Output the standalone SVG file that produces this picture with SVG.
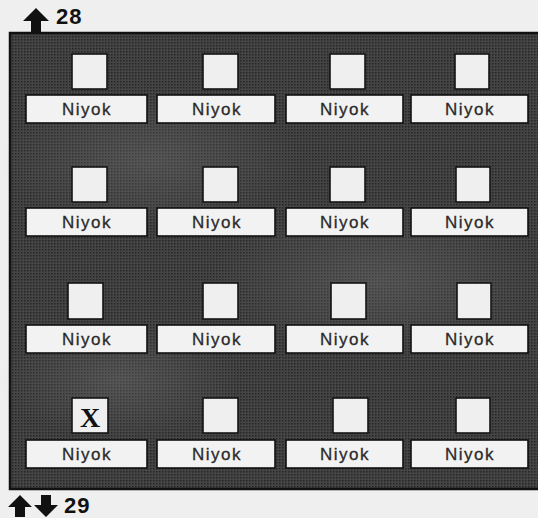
<svg xmlns="http://www.w3.org/2000/svg" width="538" height="518" viewBox="0 0 538 518">
<defs>
<style>
.lbl{fill:#f2f2f2;stroke:#111;stroke-width:1.6}
.cb{fill:#efefef;stroke:#151515;stroke-width:1.6}
.t{font-family:"Liberation Sans",Arial,sans-serif;font-size:17px;letter-spacing:1.5px;fill:#2a2a2a;stroke:#2a2a2a;stroke-width:0.3;text-anchor:middle}
.n{font-family:"Liberation Sans",Arial,sans-serif;font-size:22px;font-weight:bold;letter-spacing:1px;fill:#111}
.arr{fill:#111}
</style>
<pattern id="dots" width="3" height="3" patternUnits="userSpaceOnUse">
<rect width="3" height="3" fill="#454545"/>
<rect width="1.5" height="1.5" fill="#252525"/>
</pattern>
<radialGradient id="g1" cx="0.5" cy="0.5" r="0.5">
<stop offset="0" stop-color="#777" stop-opacity="0.35"/>
<stop offset="1" stop-color="#777" stop-opacity="0"/>
</radialGradient>
</defs>
<rect width="538" height="518" fill="#efefef"/>
<g id="panel">
<rect x="10" y="33" width="530" height="456" fill="url(#dots)" stroke="#111" stroke-width="2.5"/>
<ellipse cx="150" cy="160" rx="150" ry="70" fill="url(#g1)"/>
<ellipse cx="380" cy="280" rx="170" ry="80" fill="url(#g1)"/>
<ellipse cx="120" cy="380" rx="120" ry="60" fill="url(#g1)"/>
</g>
<g id="top-label">
<path class="arr" d="M36,8 L49,21 L41,21 L41,32 L31,32 L31,21 L23,21 Z"/>
<text class="n" x="56" y="24">28</text>
</g>
<g id="bottom-label">
<path class="arr" d="M20,495 L32,507 L25,507 L25,517 L15,517 L15,507 L8,507 Z"/>
<path class="arr" d="M46,517 L58,505 L51,505 L51,495 L41,495 L41,505 L34,505 Z"/>
<text class="n" x="64" y="513">29</text>
</g>
<g id="row1">
<g id="r1c1"><rect class="cb" x="72" y="54" width="35" height="35"/><rect class="lbl" x="26" y="95" width="121" height="28"/><text class="t" x="87" y="115">Niyok</text></g>
<g id="r1c2"><rect class="cb" x="203" y="54" width="35" height="35"/><rect class="lbl" x="157" y="95" width="118" height="28"/><text class="t" x="217" y="115">Niyok</text></g>
<g id="r1c3"><rect class="cb" x="330" y="54" width="35" height="35"/><rect class="lbl" x="286" y="95" width="117" height="28"/><text class="t" x="345" y="115">Niyok</text></g>
<g id="r1c4"><rect class="cb" x="455" y="54" width="34" height="35"/><rect class="lbl" x="411" y="95" width="117" height="28"/><text class="t" x="470" y="115">Niyok</text></g>
</g>
<g id="row2">
<g id="r2c1"><rect class="cb" x="72" y="167" width="35" height="35"/><rect class="lbl" x="26" y="208" width="121" height="28"/><text class="t" x="87" y="228">Niyok</text></g>
<g id="r2c2"><rect class="cb" x="203" y="167" width="35" height="35"/><rect class="lbl" x="157" y="208" width="118" height="28"/><text class="t" x="217" y="228">Niyok</text></g>
<g id="r2c3"><rect class="cb" x="330" y="167" width="35" height="35"/><rect class="lbl" x="286" y="208" width="117" height="28"/><text class="t" x="345" y="228">Niyok</text></g>
<g id="r2c4"><rect class="cb" x="456" y="167" width="34" height="35"/><rect class="lbl" x="411" y="208" width="117" height="28"/><text class="t" x="470" y="228">Niyok</text></g>
</g>
<g id="row3">
<g id="r3c1"><rect class="cb" x="68" y="283" width="35" height="36"/><rect class="lbl" x="26" y="325" width="121" height="28"/><text class="t" x="87" y="345">Niyok</text></g>
<g id="r3c2"><rect class="cb" x="203" y="283" width="35" height="36"/><rect class="lbl" x="157" y="325" width="118" height="28"/><text class="t" x="217" y="345">Niyok</text></g>
<g id="r3c3"><rect class="cb" x="331" y="283" width="35" height="36"/><rect class="lbl" x="286" y="325" width="117" height="28"/><text class="t" x="345" y="345">Niyok</text></g>
<g id="r3c4"><rect class="cb" x="457" y="283" width="34" height="36"/><rect class="lbl" x="411" y="325" width="117" height="28"/><text class="t" x="470" y="345">Niyok</text></g>
</g>
<g id="row4">
<g id="r4c1"><rect class="cb" x="72" y="398" width="36" height="35"/><text x="90" y="427" font-family="Liberation Serif,Times New Roman,serif" font-size="28" font-weight="bold" fill="#111" text-anchor="middle">X</text><rect class="lbl" x="26" y="440" width="121" height="28"/><text class="t" x="87" y="460">Niyok</text></g>
<g id="r4c2"><rect class="cb" x="203" y="398" width="35" height="35"/><rect class="lbl" x="157" y="440" width="118" height="28"/><text class="t" x="217" y="460">Niyok</text></g>
<g id="r4c3"><rect class="cb" x="333" y="398" width="35" height="35"/><rect class="lbl" x="286" y="440" width="117" height="28"/><text class="t" x="345" y="460">Niyok</text></g>
<g id="r4c4"><rect class="cb" x="456" y="398" width="34" height="35"/><rect class="lbl" x="411" y="440" width="117" height="28"/><text class="t" x="470" y="460">Niyok</text></g>
</g>
</svg>
